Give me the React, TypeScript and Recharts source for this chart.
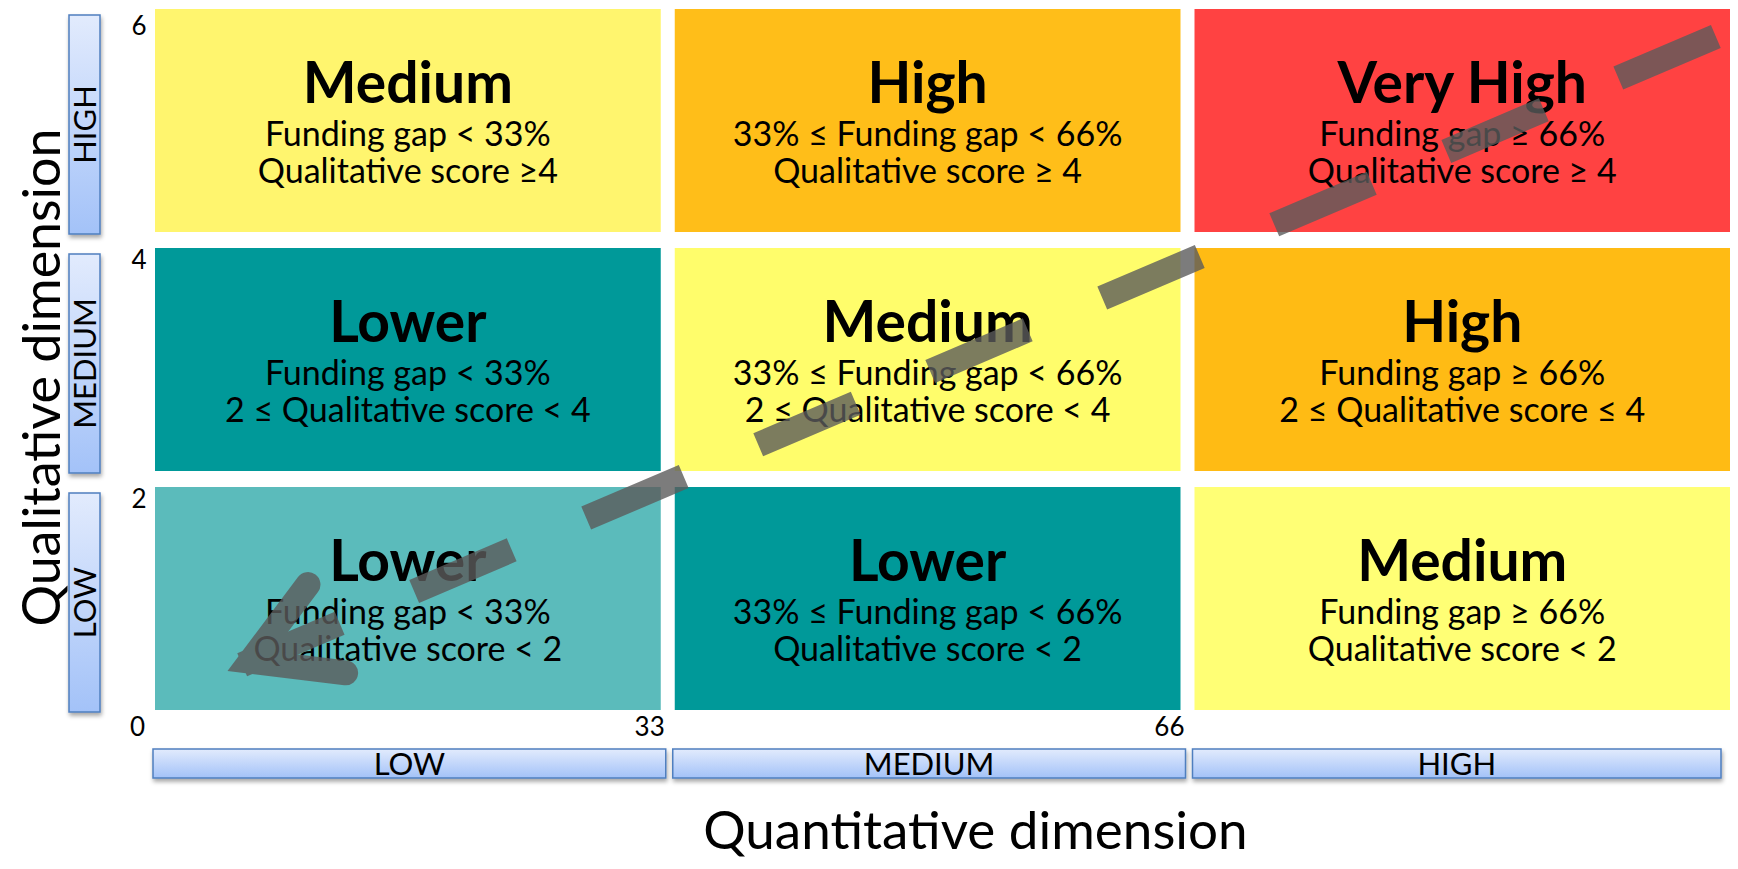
import * as React from 'react';
import { ComposedChart, XAxis, YAxis, ReferenceArea, ReferenceLine } from 'recharts';

const FONT = 'Lato, "Noto Sans", sans-serif';

// quantitative dimension (funding gap, %) and qualitative dimension (score)
const gapEdges = [0, 33, 66, 100];
const scoreEdges = [0, 2, 4, 6];
const xTicks = [0, 33, 66];
const yTicks = [2, 4, 6];
const gapBands = ['LOW', 'MEDIUM', 'HIGH'];
const scoreBands = ['LOW', 'MEDIUM', 'HIGH'];

// rows: score LOW -> HIGH, columns: gap LOW -> HIGH
const riskLevel = [
  ['Lower', 'Lower', 'Medium'],
  ['Lower', 'Medium', 'High'],
  ['Medium', 'High', 'Very High'],
];
const gapRule = ['Funding gap < 33%', '33% ≤ Funding gap < 66%', 'Funding gap ≥ 66%'];
const scoreRule = [
  ['Qualitative score < 2', 'Qualitative score < 2', 'Qualitative score < 2'],
  ['2 ≤ Qualitative score < 4', '2 ≤ Qualitative score < 4', '2 ≤ Qualitative score ≤ 4'],
  ['Qualitative score ≥4', 'Qualitative score ≥ 4', 'Qualitative score ≥ 4'],
];

// direction arrow (from high/high corner down to low/low)
const trendStart = { x: 99.1, y: 5.77 };
const trendEnd = { x: 4.6, y: 0.46 };

const cellFill = [
  ['#5BBBBB', '#009999', '#FFFF75'],
  ['#009999', '#FFFD6B', '#FFBB14'],
  ['#FFF56E', '#FFBE19', '#FF4242'],
];

const GAP_X = 14;
const GAP_Y = 16;

const RiskCell = (p: any) => {
  const { x, y, width, height, row, col } = p;
  const w = col === gapBands.length - 1 ? width : width - GAP_X;
  const h = height - GAP_Y;
  const cx = x + w / 2;
  const cy = y + h / 2;
  return (
    <g>
      <rect x={x} y={y} width={w} height={h} fill={cellFill[row][col]} />
      <text x={cx} y={cy - 18} textAnchor="middle" fontFamily={FONT} fontWeight={700} fontSize={57} fill="#000">
        {riskLevel[row][col]}
      </text>
      <text x={cx} y={cy + 25} textAnchor="middle" fontFamily={FONT} fontSize={34} fill="#000">
        {gapRule[col]}
      </text>
      <text x={cx} y={cy + 62} textAnchor="middle" fontFamily={FONT} fontSize={34} fill="#000">
        {scoreRule[row][col]}
      </text>
    </g>
  );
};

const ScoreBand = (p: any) => {
  const { x, y, height, label } = p;
  const bx = x - 86;
  const bw = 31;
  const by = y + 6;
  const bh = height - 20;
  const cx = bx + bw / 2;
  const cy = by + bh / 2;
  return (
    <g>
      <rect x={bx} y={by} width={bw} height={bh} fill="url(#bandFill)" stroke="#4F7FBF" strokeWidth={1.5} filter="url(#bandShadow)" />
      <text x={cx} y={cy} dy={11} transform={`rotate(-90 ${cx} ${cy})`} textAnchor="middle" fontFamily={FONT} fontSize={31} fill="#000">
        {label}
      </text>
    </g>
  );
};

const GapBand = (p: any) => {
  const { x, y, width, height, label } = p;
  const bx = x - 2;
  const bw = width - 7;
  const by = y + height + 23;
  const bh = 29;
  return (
    <g>
      <rect x={bx} y={by} width={bw} height={bh} fill="url(#bandFill)" stroke="#4F7FBF" strokeWidth={1.5} filter="url(#bandShadow)" />
      <text x={bx + bw / 2} y={by + bh / 2 + 11} textAnchor="middle" fontFamily={FONT} fontSize={31} fill="#000">
        {label}
      </text>
    </g>
  );
};

const TrendArrow = (p: any) => {
  const { x1, y1, x2, y2 } = p;
  const len = Math.hypot(x2 - x1, y2 - y1);
  const bx = (x1 - x2) / len;
  const by = (y1 - y2) / len;
  const px = -by;
  const py = bx;
  const v = [x2 + bx * 25, y2 + by * 25];
  const e1 = [x2 + bx * 108 + px * 48, y2 + by * 108 + py * 48];
  const e2 = [x2 + bx * 108 - px * 48, y2 + by * 108 - py * 48];
  return (
    <g opacity={0.8}>
      <line x1={x1} y1={y1} x2={x2} y2={y2} stroke="#5C5C5C" strokeWidth={25} strokeDasharray="106 81" />
      <polyline
        points={`${e1[0]},${e1[1]} ${v[0]},${v[1]} ${e2[0]},${e2[1]}`}
        fill="none"
        stroke="#5C5C5C"
        strokeWidth={25}
        strokeLinejoin="miter"
        strokeLinecap="round"
      />
    </g>
  );
};

const XTick = (p: any) => (
  <text x={p.x - 10} y={p.y + 10} textAnchor="end" fontFamily={FONT} fontSize={26} fill="#000">
    {p.payload.value}
  </text>
);

// keep the top label inside the drawing
const YTick = (p: any) => (
  <text x={p.x - 16} y={Math.max(p.y + 21, 27)} textAnchor="middle" fontFamily={FONT} fontSize={26} fill="#000">
    {p.payload.value}
  </text>
);

const XTitle = (p: any) => {
  const vb = p.viewBox || { x: 147, y: 718, width: 1575, height: 135 };
  return (
    <text x={vb.x + vb.width / 2 + 33} y={vb.y + vb.height - 12} textAnchor="middle" fontFamily={FONT} fontSize={53} fill="#000">
      Quantitative dimension
    </text>
  );
};

const YTitle = (p: any) => {
  const vb = p.viewBox || { x: 0, y: 1, width: 147, height: 717 };
  const cx = vb.x + 52;
  const cy = vb.y + vb.height / 2 + 10;
  return (
    <text x={cx} y={cy} transform={`rotate(-90 ${cx} ${cy})`} textAnchor="middle" fontFamily={FONT} fontSize={52} fill="#000">
      Qualitative dimension
    </text>
  );
};

export default function App() {
  return (
    <ComposedChart width={1722} height={853} data={[trendStart, trendEnd]} margin={{ top: 1, right: 0, bottom: 0, left: 0 }}>
      <defs>
        <linearGradient id="bandFill" x1="0" y1="0" x2="0" y2="1">
          <stop offset="0%" stopColor="#E2EBFD" />
          <stop offset="100%" stopColor="#A3C2F8" />
        </linearGradient>
        <filter id="bandShadow" x="-30%" y="-30%" width="160%" height="180%">
          <feDropShadow dx="1" dy="3" stdDeviation="2" floodColor="#000" floodOpacity="0.35" />
        </filter>
      </defs>
      <XAxis
        type="number"
        dataKey="x"
        domain={[0, 100]}
        ticks={xTicks}
        interval={0}
        allowDataOverflow
        height={135}
        axisLine={false}
        tickLine={false}
        tickSize={0}
        tickMargin={0}
        tick={XTick}
        label={XTitle}
      />
      <YAxis
        type="number"
        dataKey="y"
        domain={[0, 6]}
        ticks={yTicks}
        interval={0}
        allowDataOverflow
        width={147}
        axisLine={false}
        tickLine={false}
        tickSize={0}
        tickMargin={0}
        tick={YTick}
        label={YTitle}
      />
      {scoreBands.map((lab, r) => (
        <ReferenceArea
          key={`sb-${r}`}
          y1={scoreEdges[r]}
          y2={scoreEdges[r + 1]}
          ifOverflow="visible"
          shape={(p: any) => <ScoreBand {...p} label={lab} />}
        />
      ))}
      {gapBands.map((lab, c) => (
        <ReferenceArea
          key={`gb-${c}`}
          x1={gapEdges[c]}
          x2={gapEdges[c + 1]}
          ifOverflow="visible"
          shape={(p: any) => <GapBand {...p} label={lab} />}
        />
      ))}
      {riskLevel.map((rowLevels, r) =>
        rowLevels.map((_, c) => (
          <ReferenceArea
            key={`cell-${r}-${c}`}
            x1={gapEdges[c]}
            x2={gapEdges[c + 1]}
            y1={scoreEdges[r]}
            y2={scoreEdges[r + 1]}
            ifOverflow="visible"
            shape={(p: any) => <RiskCell {...p} row={r} col={c} />}
          />
        ))
      )}
      <ReferenceLine segment={[trendStart, trendEnd]} ifOverflow="visible" shape={TrendArrow} />
    </ComposedChart>
  );
}
